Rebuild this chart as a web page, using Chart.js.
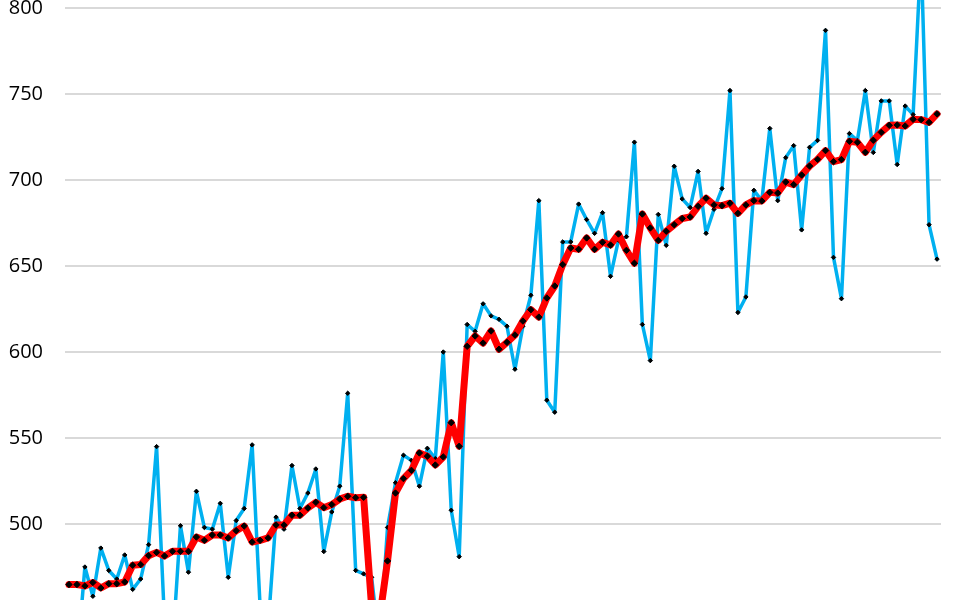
<!DOCTYPE html>
<html>
<head>
<meta charset="utf-8">
<script src="https://cdn.jsdelivr.net/npm/chart.js@4.4.1/dist/chart.umd.min.js"></script>
<style>
  html, body { margin: 0; padding: 0; background: #fff; overflow: hidden; width: 965px; height: 600px; }
  #wrap { position: absolute; left: 0; top: -90px; width: 965px; height: 800px; }
</style>
</head>
<body>
<div id="wrap"><canvas id="chart"></canvas></div>
<script>
// values (110 periods)
const actual = [
  440, 420, 475, 458, 486, 473, 468, 482, 462, 468,
  488, 545, 443, 428, 499, 472, 519, 498, 497, 512,
  469, 502, 509, 546, 452, 440, 504, 497, 534, 509,
  518, 532, 484, 507, 522, 576, 473, 471, 469, 429,
  498, 524, 540, 537, 522, 544, 538, 600, 508, 481,
  616, 612, 628, 621, 619, 615, 590, 615, 633, 688,
  572, 565, 664, 664, 686, 677, 669, 681, 644, 665,
  667, 722, 616, 595, 680, 662, 708, 689, 684, 705,
  669, 683, 695, 752, 623, 632, 694, 688, 730, 688,
  713, 720, 671, 719, 723, 787, 655, 631, 727, 723,
  752, 716, 746, 746, 709, 743, 738, 832, 674, 654
];
const trend = [
  464.8, 464.8, 464.0, 466.0, 462.8, 465.3, 465.3, 466.3, 476.0, 476.4,
  481.6, 483.5, 481.4, 484.1, 484.1, 484.1, 492.4, 490.5, 493.6, 493.6,
  491.9, 496.1, 498.8, 489.5, 490.5, 491.9, 499.4, 499.4, 505.1, 505.1,
  509.3, 512.6, 509.5, 511.3, 514.5, 516.1, 515.3, 515.5, 452.0, 445.0,
  478.5, 518.0, 526.4, 531.2, 541.3, 539.4, 534.3, 539.0, 558.9, 545.2,
  603.3, 609.3, 605.2, 612.2, 601.6, 605.6, 609.9, 618.0, 624.6, 620.3,
  631.4, 638.4, 650.8, 660.5, 659.7, 666.3, 659.7, 663.8, 662.2, 668.6,
  659.1, 651.6, 680.2, 672.1, 664.9, 670.2, 674.0, 677.6, 678.5, 684.7,
  689.4, 685.5, 685.1, 686.5, 680.6, 685.5, 688.0, 687.8, 692.8, 692.4,
  698.8, 697.3, 702.9, 708.1, 712.0, 717.1, 710.7, 711.9, 722.5, 721.9,
  716.1, 723.1, 727.7, 731.8, 732.0, 731.4, 735.3, 735.1, 733.5, 738.4
];
const periods = actual.map((v, i) => String(i + 1));
const yMin = 400, yMax = 850, yStep = 50;

const wrap = document.getElementById('wrap');
const chart = new Chart(document.getElementById('chart'), {
  type: 'line',
  data: {
    labels: periods,
    datasets: [
      {
        label: 'Trend', data: trend, order: 1,
        borderColor: '#ff0000', borderWidth: 7, tension: 0,
        borderJoinStyle: 'round', borderCapStyle: 'round',
        pointStyle: 'rectRot', pointRadius: 3.2, pointBorderWidth: 1,
        pointBackgroundColor: '#000', pointBorderColor: '#000'
      },
      {
        label: 'Actual', data: actual, order: 2,
        borderColor: '#00b0f0', borderWidth: 3.5, tension: 0,
        borderJoinStyle: 'round', borderCapStyle: 'round',
        pointStyle: 'rectRot', pointRadius: 2.2, pointBorderWidth: 1,
        pointBackgroundColor: '#000', pointBorderColor: '#000'
      }
    ]
  },
  options: {
    responsive: true,
    maintainAspectRatio: false,
    animation: false,
    layout: { padding: { left: 0, right: 24, top: 0, bottom: 0 } },
    plugins: { legend: { display: false }, tooltip: { enabled: false } },
    scales: {
      x: { display: false, offset: true },
      y: {
        min: yMin, max: yMax,
        border: { display: false },
        grid: { color: '#d9d9d9', lineWidth: 2, drawTicks: false },
        ticks: { stepSize: yStep, padding: 22, color: '#000', font: { family: 'Open Sans', size: 20 } },
        afterFit: s => { s.width = 65; }
      }
    }
  }
});

// stretch and shift the canvas so the visible window matches the cropped view
const area = chart.chartArea;
const want = (yMax - yMin) * 1.72;
wrap.style.height = (wrap.clientHeight + want - (area.bottom - area.top)) + 'px';
chart.resize();
wrap.style.top = (7.7 - chart.scales.y.getPixelForValue(800)) + 'px';
</script>
</body>
</html>
